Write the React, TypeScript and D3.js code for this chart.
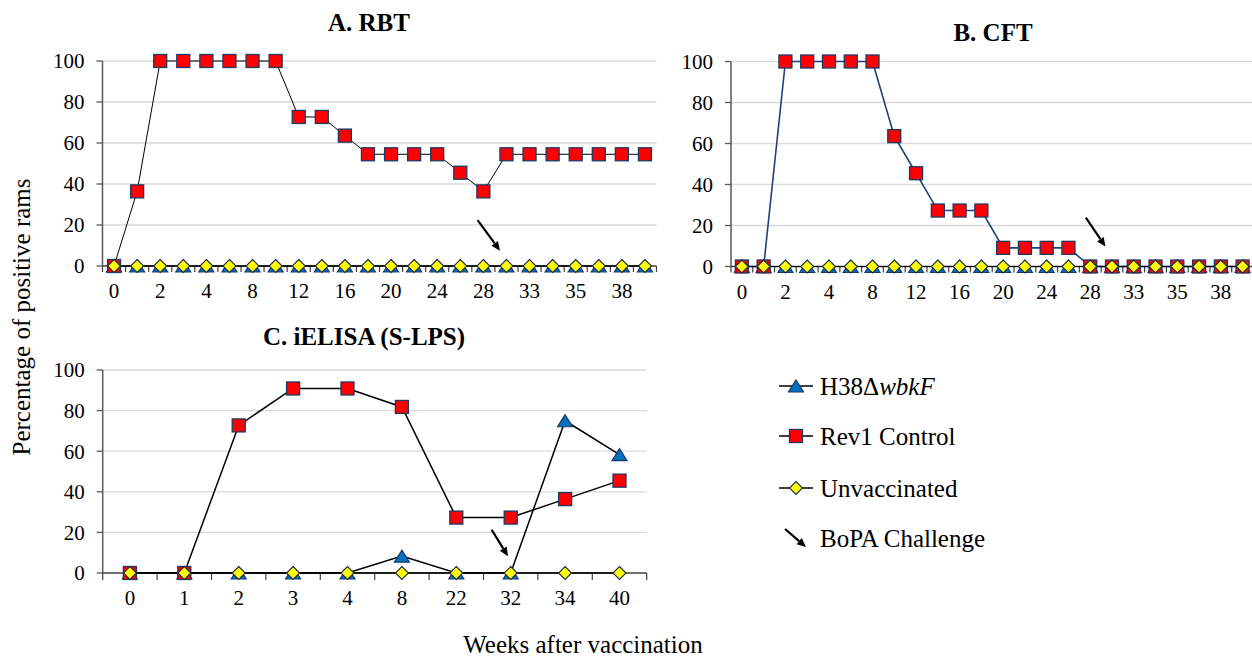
import React from "react";
import * as d3 from "d3";

// ---------- data ----------
const weeksAB = ["0","1","2","3","4","6","8","10","12","14","16","18","20","22","24","26","28","30","33","34","35","36","38","40"];
const weeksC = ["0","1","2","3","4","8","22","32","34","40"];
const yTicks = [0, 20, 40, 60, 80, 100];

const rbtH38 = [0,0,0,0,0,0,0,0,0,0,0,0,0,0,0,0,0,0,0,0,0,0,0,0];
const rbtRev1 = [0,36.4,100,100,100,100,100,100,72.7,72.7,63.6,54.5,54.5,54.5,54.5,45.5,36.4,54.5,54.5,54.5,54.5,54.5,54.5,54.5];
const rbtUnvac = [0,0,0,0,0,0,0,0,0,0,0,0,0,0,0,0,0,0,0,0,0,0,0,0];

const cftH38 = [0,0,0,0,0,0,0,0,0,0,0,0,0,0,0,0,0,0,0,0,0,0,0,0];
const cftRev1 = [0,0,100,100,100,100,100,63.6,45.5,27.3,27.3,27.3,9.1,9.1,9.1,9.1,0,0,0,0,0,0,0,0];
const cftUnvac = [0,0,0,0,0,0,0,0,0,0,0,0,0,0,0,0,0,0,0,0,0,0,0,0];

const elisaH38 = [0,0,0,0,0,8.3,0,0,75,58.3];
const elisaRev1 = [0,0,72.7,90.9,90.9,81.8,27.3,27.3,36.4,45.5];
const elisaUnvac = [0,0,0,0,0,0,0,0,0,0];

// BoPA challenge arrows: [fromIndex, fromValue, toIndex, toValue]
const arrowA = [15.75, 22.4, 16.72, 7.5];
const arrowB = [15.8, 23.8, 16.7, 9.7];
const arrowC = [6.65, 21.3, 6.95, 8.2];

const legendLabels = ["H38ΔwbkF", "Rev1 Control", "Unvaccinated", "BoPA Challenge"];

// ---------- styles ----------
const FONT = "Liberation Serif, Times New Roman, DejaVu Serif, serif";
const RED = "#ff0000";
const BLUE = "#0070c0";
const YELLOW = "#ffff00";
const NAVY = "#1f3864";

type Kind = "tri" | "sq" | "dia";

function Marker({ kind, x, y }: { kind: Kind; x: number; y: number }) {
  if (kind === "sq") {
    return <rect x={x - 6.5} y={y - 6.5} width={13} height={13} fill={RED} stroke={NAVY} strokeWidth={1.3} />;
  }
  if (kind === "dia") {
    const r = 6.5;
    return (
      <path
        d={`M${x},${y - r}L${x + r},${y}L${x},${y + r}L${x - r},${y}Z`}
        fill={YELLOW}
        stroke={"#1a2a4a"}
        strokeWidth={1.1}
      />
    );
  }
  const w = 7.5, h = 12;
  return (
    <path
      d={`M${x},${y - h * 0.5}L${x + w},${y + h * 0.5}L${x - w},${y + h * 0.5}Z`}
      fill={BLUE}
      stroke={NAVY}
      strokeWidth={1.2}
    />
  );
}

type Series = { kind: Kind; values: number[]; color: string; width: number };

function Arrow({ x1, y1, x2, y2 }: { x1: number; y1: number; x2: number; y2: number }) {
  const ang = Math.atan2(y2 - y1, x2 - x1);
  const L = 9, W = 4;
  const bx = x2 - L * Math.cos(ang), by = y2 - L * Math.sin(ang);
  const px = -Math.sin(ang) * W, py = Math.cos(ang) * W;
  return (
    <g>
      <line x1={x1} y1={y1} x2={bx} y2={by} stroke="#000" strokeWidth={2.2} />
      <path d={`M${x2},${y2}L${bx + px},${by + py}L${bx - px},${by - py}Z`} fill="#000" />
    </g>
  );
}

const txt = (size: number, extra: React.CSSProperties = {}): React.CSSProperties => ({
  fontFamily: FONT, fontSize: size, ...extra,
});

function Panel(props: {
  title: string; titleX: number; titleY: number;
  x0: number; x1: number; yTop: number; yBot: number;
  cats: string[]; every: number; series: Series[]; arrow: number[]; tickLen: number;
}) {
  const { title, titleX, titleY, x0, x1, yTop, yBot, cats, every, series, arrow, tickLen } = props;
  const xs = d3.scaleBand<string>().domain(cats).range([x0, x1]).padding(0);
  const bw = xs.bandwidth();
  const cx = (c: string) => (xs(c) as number) + bw / 2;
  const y = d3.scaleLinear().domain([0, 100]).range([yBot, yTop]);
  const xi = d3.scaleLinear().domain([0, cats.length - 1]).range([cx(cats[0]), cx(cats[cats.length - 1])]);
  const line = d3.line<number>().x((_, i) => cx(cats[i])).y((v) => y(v));
  const bounds = d3.range(cats.length + 1).map((i) => x0 + i * bw);
  return (
    <g>
      <text x={titleX} y={titleY} textAnchor="middle" style={txt(25, { fontWeight: "bold" })}>{title}</text>
      {yTicks.filter((t) => t > 0).map((t) => (
        <line key={"g" + t} x1={x0} x2={x1} y1={y(t)} y2={y(t)} stroke="#d9d9d9" strokeWidth={1.3} />
      ))}
      {yTicks.map((t) => (
        <g key={"y" + t}>
          <line x1={x0 - 6} x2={x0} y1={y(t)} y2={y(t)} stroke="#595959" strokeWidth={1.3} />
          <text x={x0 - 18} y={y(t)} dy="0.35em" textAnchor="end" style={txt(21)}>{t}</text>
        </g>
      ))}
      <line x1={x0} x2={x0} y1={yTop} y2={yBot} stroke="#595959" strokeWidth={1.5} />
      <line x1={x0} x2={x1} y1={yBot} y2={yBot} stroke="#404040" strokeWidth={1.5} />
      {bounds.map((b, i) => (
        <line key={"t" + i} x1={b} x2={b} y1={yBot} y2={yBot + tickLen} stroke="#404040" strokeWidth={1.2} />
      ))}
      {cats.map((c, i) => (i % every === 0 ? (
        <text key={"xl" + i} x={cx(c)} y={yBot + 32} textAnchor="middle" style={txt(21)}>{c}</text>
      ) : null))}
      {series.map((s, si) => (
        <path key={"l" + si} d={line(s.values) as string} fill="none" stroke={s.color} strokeWidth={s.width} />
      ))}
      {series.map((s, si) => (
        <g key={"m" + si}>
          {s.values.map((v, i) => <Marker key={i} kind={s.kind} x={cx(cats[i])} y={y(v)} />)}
        </g>
      ))}
      <Arrow x1={xi(arrow[0])} y1={y(arrow[1])} x2={xi(arrow[2])} y2={y(arrow[3])} />
    </g>
  );
}

export default function App() {
  const legendKinds: Kind[] = ["tri", "sq", "dia"];
  const legendY = [386, 436, 488, 538];
  return (
    <svg width={1252} height={657} style={{ position: "absolute", left: 0, top: 0, background: "#fff" }}>
      <rect x={0} y={0} width={1252} height={657} fill="#fff" />
      <Panel title="A. RBT" titleX={369} titleY={31} x0={102.5} x1={656.5} yTop={61} yBot={266}
        cats={weeksAB} every={2} tickLen={6} arrow={arrowA}
        series={[
          { kind: "tri", values: rbtH38, color: "#000", width: 1 },
          { kind: "sq", values: rbtRev1, color: "#000", width: 1 },
          { kind: "dia", values: rbtUnvac, color: "#000", width: 1 },
        ]} />
      <Panel title="B. CFT" titleX={993} titleY={41} x0={731} x1={1253.5} yTop={61.5} yBot={266.5}
        cats={weeksAB} every={2} tickLen={6} arrow={arrowB}
        series={[
          { kind: "tri", values: cftH38, color: "#000", width: 1.2 },
          { kind: "sq", values: cftRev1, color: "#203f7f", width: 1.6 },
          { kind: "dia", values: cftUnvac, color: "#000", width: 1.2 },
        ]} />
      <Panel title="C. iELISA (S-LPS)" titleX={364} titleY={345} x0={102.7} x1={646.7} yTop={370} yBot={573}
        cats={weeksC} every={1} tickLen={7} arrow={arrowC}
        series={[
          { kind: "tri", values: elisaH38, color: "#000", width: 1.5 },
          { kind: "sq", values: elisaRev1, color: "#000", width: 1.5 },
          { kind: "dia", values: elisaUnvac, color: "#000", width: 1.5 },
        ]} />
      <text transform="translate(30,317) rotate(-90)" textAnchor="middle" style={txt(25)}>Percentage of positive rams</text>
      <text x={583} y={653} textAnchor="middle" style={txt(25)}>Weeks after vaccination</text>
      {legendKinds.map((k, i) => (
        <g key={"lg" + i}>
          <line x1={779} x2={813} y1={legendY[i]} y2={legendY[i]} stroke="#000" strokeWidth={1.5} />
          <Marker kind={k} x={796} y={legendY[i]} />
        </g>
      ))}
      <text x={820} y={legendY[0]} dy="0.35em" style={txt(25)}>
        {legendLabels[0].slice(0, 4)}<tspan style={{ fontStyle: "italic" }}>{legendLabels[0].slice(4)}</tspan>
      </text>
      {[1, 2, 3].map((i) => (
        <text key={"lt" + i} x={820} y={legendY[i]} dy="0.35em" style={txt(25)}>{legendLabels[i]}</text>
      ))}
      <Arrow x1={785} y1={529} x2={806} y2={547} />
    </svg>
  );
}
